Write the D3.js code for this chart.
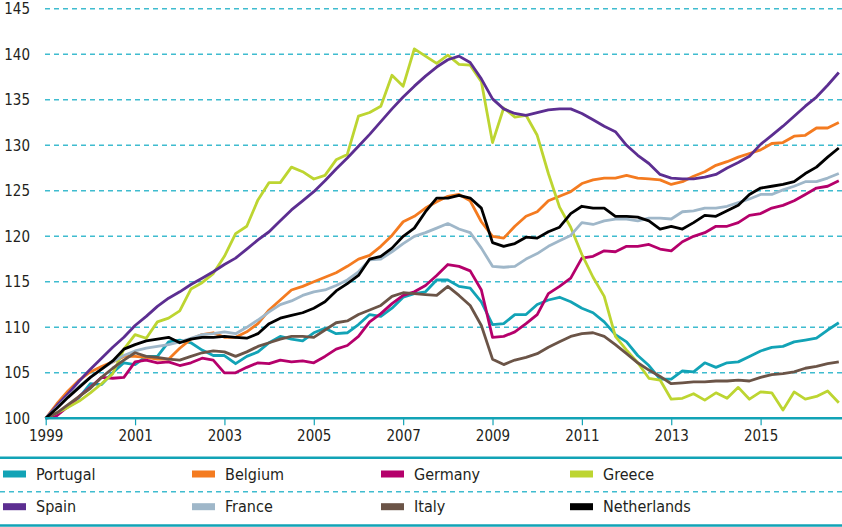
<!DOCTYPE html>
<html>
<head>
<meta charset="utf-8">
<script src="https://cdn.jsdelivr.net/npm/d3@7"></script>
<style>
  body { margin: 0; background: #fff; }
  svg { display: block; font-family: "DejaVu Sans Condensed", "Liberation Sans Narrow", sans-serif; }
</style>
</head>
<body>
<div id="chart"></div>
<script>
// quarterly index, 1999 Q1 = 100
const startYear = 1999;
const tickYears = [1999, 2001, 2003, 2005, 2007, 2009, 2011, 2013, 2015];
const yTicks = [100, 105, 110, 115, 120, 125, 130, 135, 140, 145];

const portugal = [100, 100.5, 101.3, 102.3, 103.8, 103.7, 105.0, 106.1, 105.9, 106.8, 106.8, 108.4, 108.6, 108.3, 107.5, 106.9,
  106.9, 106.0, 106.8, 107.3, 108.3, 109.0, 108.7, 108.5, 109.4, 109.9, 109.3, 109.4, 110.3, 111.4, 111.2, 112.1,
  113.3, 113.7, 113.9, 115.2, 115.2, 114.5, 114.3, 112.8, 110.3, 110.4, 111.4, 111.4, 112.5, 113.0, 113.3, 112.8,
  112.1, 111.6, 110.6, 109.2, 108.4, 106.9, 105.8, 104.3, 104.3, 105.2, 105.1, 106.1, 105.6, 106.1, 106.2, 106.8,
  107.4, 107.8, 107.9, 108.4, 108.6, 108.8, 109.7, 110.5];
const belgium = [100, 101.6, 103.0, 104.2, 105.1, 105.7, 106.2, 106.8, 106.8, 106.7, 106.5, 106.5, 107.7, 108.7, 109.2, 109.4,
  108.9, 108.9, 109.5, 110.4, 111.9, 113.0, 114.1, 114.5, 115.0, 115.5, 116.0, 116.7, 117.5, 117.9, 118.9, 120.1,
  121.6, 122.2, 123.1, 123.8, 124.4, 124.6, 123.9, 121.6, 120.0, 119.8, 121.1, 122.2, 122.7, 123.9, 124.4, 124.9,
  125.8, 126.2, 126.4, 126.4, 126.7, 126.4, 126.3, 126.2, 125.7, 126.0, 126.6, 127.1, 127.8, 128.2, 128.7, 129.1,
  129.5, 130.2, 130.3, 131.0, 131.1, 131.9, 131.9, 132.5];
const germany = [100, 100.3, 101.3, 102.4, 103.4, 104.5, 104.4, 104.5, 106.2, 106.4, 106.1, 106.2, 105.8, 106.1, 106.6, 106.4,
  105.0, 105.0, 105.6, 106.1, 106.0, 106.4, 106.2, 106.3, 106.1, 106.8, 107.6, 108.0, 109.0, 110.6, 111.5, 112.6,
  113.5, 113.9, 114.6, 115.7, 116.9, 116.7, 116.2, 114.1, 108.9, 109.0, 109.5, 110.4, 111.4, 113.7, 114.5, 115.4,
  117.6, 117.8, 118.4, 118.3, 118.9, 118.9, 119.1, 118.6, 118.4, 119.4, 120.0, 120.4, 121.1, 121.1, 121.5, 122.3,
  122.5, 123.1, 123.4, 123.9, 124.6, 125.3, 125.5, 126.1];
const greece = [100, 100.6, 101.2, 101.9, 102.8, 103.8, 104.9, 107.6, 109.2, 108.8, 110.6, 111.0, 111.8, 114.2, 114.9, 115.9,
  117.8, 120.3, 121.1, 124.0, 125.9, 125.9, 127.6, 127.1, 126.3, 126.7, 128.4, 129.0, 133.2, 133.6, 134.3, 137.7,
  136.5, 140.6, 139.8, 139.0, 139.9, 138.9, 138.8, 137.0, 130.3, 134.1, 133.1, 133.3, 131.1, 126.9, 123.2, 121.0,
  118.0, 115.5, 113.4, 109.0, 107.5, 106.1, 104.4, 104.2, 102.1, 102.2, 102.7, 102.0, 102.8, 102.2, 103.4, 102.1,
  102.9, 102.8, 100.9, 102.9, 102.1, 102.4, 103.0, 101.7];
const spain = [100, 101.4, 102.7, 104.1, 105.4, 106.6, 107.8, 108.9, 110.2, 111.2, 112.3, 113.2, 113.9, 114.7, 115.4, 116.1,
  116.9, 117.6, 118.6, 119.6, 120.5, 121.7, 122.9, 123.9, 124.9, 126.1, 127.4, 128.6, 129.9, 131.2, 132.6, 134.0,
  135.3, 136.5, 137.6, 138.6, 139.4, 139.8, 139.1, 137.3, 135.1, 134.0, 133.5, 133.3, 133.6, 133.9, 134.0, 134.0,
  133.5, 132.8, 132.1, 131.5, 130.0, 128.9, 128.0, 126.8, 126.4, 126.3, 126.3, 126.5, 126.8, 127.5, 128.1, 128.8,
  130.1, 131.1, 132.1, 133.2, 134.3, 135.3, 136.6, 138.0];
const france = [100, 101.2, 102.4, 103.5, 104.5, 105.4, 106.2, 106.9, 107.4, 107.7, 107.9, 108.1, 108.4, 108.8, 109.2, 109.3,
  109.5, 109.3, 110.0, 110.8, 111.7, 112.5, 112.9, 113.5, 113.9, 114.1, 114.6, 115.2, 116.1, 117.4, 117.5, 118.3,
  119.2, 120.0, 120.4, 120.9, 121.4, 120.8, 120.4, 118.7, 116.7, 116.6, 116.7, 117.5, 118.1, 118.9, 119.5, 120.1,
  121.5, 121.3, 121.7, 121.9, 121.9, 121.7, 122.0, 122.0, 121.9, 122.7, 122.8, 123.1, 123.1, 123.3, 123.7, 124.1,
  124.6, 124.6, 125.1, 125.5, 126.0, 126.0, 126.4, 126.9];
const italy = [100, 100.6, 101.5, 102.4, 103.3, 104.5, 105.5, 106.4, 107.2, 106.8, 106.7, 106.5, 106.4, 106.8, 107.2, 107.4,
  107.3, 106.8, 107.3, 107.9, 108.3, 108.7, 109.0, 109.0, 108.9, 109.7, 110.5, 110.7, 111.4, 111.9, 112.4, 113.4,
  113.8, 113.7, 113.6, 113.5, 114.5, 113.5, 112.4, 110.2, 106.5, 105.9, 106.4, 106.7, 107.1, 107.8, 108.4, 109.0,
  109.3, 109.4, 109.0, 108.1, 107.1, 106.1, 105.3, 104.6, 103.8, 103.9, 104.0, 104.0, 104.1, 104.1, 104.2, 104.1,
  104.5, 104.8, 104.9, 105.1, 105.5, 105.7, 106.0, 106.2];
const netherlands = [100, 101.1, 102.3, 103.4, 104.5, 105.4, 106.3, 107.6, 108.1, 108.5, 108.7, 108.9, 108.3, 108.7, 108.9, 108.9,
  109.0, 108.9, 108.8, 109.3, 110.4, 111.0, 111.3, 111.6, 112.1, 112.8, 114.0, 114.8, 115.7, 117.5, 117.8, 118.7,
  120.0, 120.9, 122.7, 124.2, 124.2, 124.5, 124.2, 123.1, 119.3, 118.9, 119.2, 119.9, 119.8, 120.5, 121.0, 122.5,
  123.3, 123.1, 123.1, 122.2, 122.2, 122.1, 121.7, 120.8, 121.1, 120.8, 121.5, 122.3, 122.2, 122.8, 123.4, 124.6,
  125.3, 125.5, 125.7, 126.0, 126.9, 127.6, 128.7, 129.7];

const series = [
  { name: "Portugal", color: "#12a3b6", values: portugal },
  { name: "Belgium", color: "#f47b20", values: belgium },
  { name: "Germany", color: "#b5006b", values: germany },
  { name: "Greece", color: "#bdd531", values: greece },
  { name: "Spain", color: "#5c2e91", values: spain },
  { name: "France", color: "#9fb7c9", values: france },
  { name: "Italy", color: "#6b5447", values: italy },
  { name: "Netherlands", color: "#000000", values: netherlands },
];

const width = 842, height = 527;
const teal = "#12a3b6", gridColor = "#3fbccf", textColor = "#231f20";

const svg = d3.select("#chart").append("svg")
  .attr("width", width)
  .attr("height", height);

const x = d3.scaleLinear().domain([1999, 2016.75]).range([45.7, 838.8]);
const y = d3.scaleLinear().domain([100, 145]).range([418.3, 8.8]);

// dashed grid lines
svg.append("g")
  .selectAll("line")
  .data(yTicks.filter((d) => d > 100))
  .enter()
  .append("line")
  .attr("x1", 45)
  .attr("x2", width)
  .attr("y1", (d) => y(d))
  .attr("y2", (d) => y(d))
  .attr("stroke", gridColor)
  .attr("stroke-width", 1.5)
  .attr("stroke-dasharray", "5,4");

// y labels
svg.append("g")
  .selectAll("text")
  .data(yTicks)
  .enter()
  .append("text")
  .attr("x", 30)
  .attr("y", (d) => y(d))
  .attr("dy", "0.35em")
  .attr("text-anchor", "end")
  .attr("font-size", 15)
  .attr("fill", textColor)
  .text((d) => d);

// lines
const line = d3.line()
  .x((d, i) => x(startYear + i / 4))
  .y((d) => y(d));

svg.append("g")
  .selectAll("path")
  .data(series)
  .enter()
  .append("path")
  .attr("fill", "none")
  .attr("stroke", (d) => d.color)
  .attr("stroke-width", 2.8)
  .attr("stroke-linejoin", "round")
  .attr("d", (d) => line(d.values));

// x axis
const xAxis = svg.append("g").attr("transform", "translate(0," + y(100) + ")");
xAxis.call(
  d3.axisBottom(x)
    .tickValues(tickYears)
    .tickFormat(d3.format("d"))
    .tickSize(7)
    .tickPadding(5)
);
xAxis.select(".domain").remove();
xAxis.selectAll(".tick line").attr("stroke", teal).attr("stroke-width", 1.2);
xAxis.selectAll(".tick text")
  .attr("font-size", 15)
  .attr("font-family", "DejaVu Sans Condensed, Liberation Sans Narrow, sans-serif")
  .attr("fill", textColor);
xAxis.append("line")
  .attr("x1", 45)
  .attr("x2", width)
  .attr("stroke", teal)
  .attr("stroke-width", 2.5);

// legend
const legend = svg.append("g");
legend.append("line").attr("x1", 0).attr("x2", width).attr("y1", 457.7).attr("y2", 457.7)
  .attr("stroke", teal).attr("stroke-width", 2.5);
legend.append("line").attr("x1", 0).attr("x2", width).attr("y1", 491.7).attr("y2", 491.7)
  .attr("stroke", gridColor).attr("stroke-width", 1.5).attr("stroke-dasharray", "5,4");
legend.append("line").attr("x1", 0).attr("x2", width).attr("y1", 525.5).attr("y2", 525.5)
  .attr("stroke", teal).attr("stroke-width", 2.5);

const item = legend.selectAll(".item")
  .data(series)
  .enter()
  .append("g")
  .attr("class", "item")
  .attr("transform", (d, i) => "translate(" + (3 + (i % 4) * 189) + "," + (i < 4 ? 474 : 506.7) + ")");

item.append("rect")
  .attr("x", 0)
  .attr("y", -3.5)
  .attr("width", 23)
  .attr("height", 7)
  .attr("fill", (d) => d.color);

item.append("text")
  .attr("x", 33)
  .attr("dy", "0.35em")
  .attr("font-size", 16)
  .attr("fill", textColor)
  .text((d) => d.name);
</script>
</body>
</html>
